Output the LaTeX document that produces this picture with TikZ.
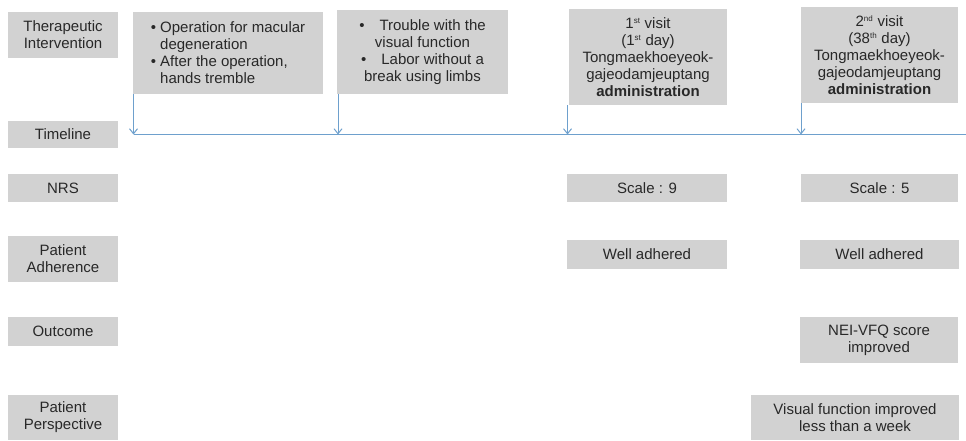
\documentclass[tikz,border=0pt]{standalone}
\usepackage{fontspec}
\setmainfont{Liberation Sans}
\usetikzlibrary{arrows.meta}
\definecolor{boxgray}{RGB}{210,210,210}
\definecolor{txtgray}{RGB}{40,40,40}
\definecolor{lineblue}{RGB}{110,160,205}
\newcommand{\sps}[1]{\textsuperscript{\footnotesize #1}}
\begin{document}
\begin{tikzpicture}[x=1pt,y=-1pt,
  cell/.style={fill=boxgray, text=txtgray, align=center, inner sep=0pt,
    font=\fontsize{15}{17}\selectfont},
  arr/.style={draw=lineblue, line width=1pt, -{Straight Barb[length=5pt,width=8pt]}}]
\useasboundingbox (0,0) rectangle (966,440);
% row labels on the left
\foreach \n/\y/\h/\t in {ther/35/46/{Therapeutic\\Intervention}, time/134.5/27/Timeline,
  nrs/188/28/NRS, adh/259/46/{Patient\\Adherence}, out/331.5/29/Outcome,
  per/417.5/45/{Patient\\Perspective}}
  {\node[cell, minimum width=110, minimum height=\h] (\n) at (63,\y) {\t};}
% therapeutic intervention
\node[cell, minimum width=190, minimum height=82, align=left] (b1) at (228,53)
  {\textbullet\ Operation for macular\\\hphantom{\textbullet\ }degeneration\\
   \textbullet\ After the operation,\\\hphantom{\textbullet\ }hands tremble};
\node[cell, minimum width=171, minimum height=84] (b2) at (422.5,52)
  {\textbullet\quad Trouble with the\\visual function\\
   \textbullet\quad Labor without a\\break using limbs};
\node[cell, minimum width=158, minimum height=96] (b3) at (648,57)
  {1\sps{st} visit\\(1\sps{st} day)\\Tongmaekhoeyeok-\\gajeodamjeuptang\\\textbf{administration}};
\node[cell, minimum width=157, minimum height=96] (b4) at (879.5,55)
  {2\sps{nd} visit\\(38\sps{th} day)\\Tongmaekhoeyeok-\\gajeodamjeuptang\\\textbf{administration}};
% timeline
\coordinate (t1) at (133.5,134.5);
\coordinate (t2) at (338,134.5);
\coordinate (t3) at (567.5,134.5);
\coordinate (t4) at (801,134.5);
\coordinate (tend) at (966,134.5);
\draw[lineblue, line width=1.3pt] (t1) -- (tend);
\foreach \i in {1,2,3,4}{\draw[arr] (t\i |- b\i.south) -- (t\i);}
% NRS
\node[cell, minimum width=160, minimum height=28] (nrs1) at (647,188) {Scale : 9};
\node[cell, minimum width=157, minimum height=28] (nrs2) at (879.5,188) {Scale : 5};
% patient adherence
\node[cell, minimum width=160, minimum height=29] (adh1) at (647,254.5) {Well adhered};
\node[cell, minimum width=159, minimum height=29] (adh2) at (879.5,254.5) {Well adhered};
% outcome
\node[cell, minimum width=158, minimum height=46] (out2) at (879,340) {NEI-VFQ score\\improved};
% patient perspective
\node[cell, minimum width=208, minimum height=45] (per2) at (855,417.5)
  {Visual function improved\\less than a week};
\end{tikzpicture}
\end{document}
